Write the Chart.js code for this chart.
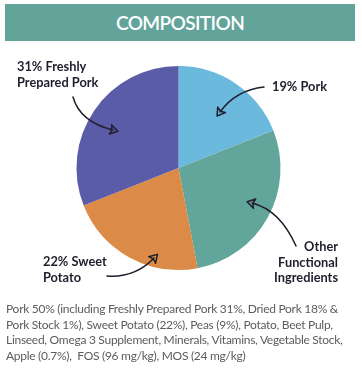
<!DOCTYPE html>
<html>
<head>
<meta charset="utf-8">
<script src="https://cdn.jsdelivr.net/npm/chart.js@4.4.0/dist/chart.umd.min.js"></script>
<style>
  html, body { margin: 0; padding: 0; background: #fff; }
  #wrap { position: relative; width: 362px; height: 382px; overflow: hidden; }
  #title {
    position: absolute; left: 5px; top: 4px; width: 350px; height: 37px;
    background: #63a49a; color: #fff; text-align: center;
    font: 600 19px 'Lato', sans-serif; line-height: 37px; letter-spacing: -0.6px;
  }
  #chart { position: absolute; left: 0; top: 0; }
  #note {
    position: absolute; left: 6px; top: 301px; width: 356px; white-space: nowrap;
    font: 400 12px 'Lato', sans-serif; line-height: 15.6px; color: #5c5c5c; letter-spacing: -0.28px;
  }
</style>
</head>
<body>
<div id="wrap">
  <canvas id="chart" width="362" height="382"></canvas>
  <div id="title">COMPOSITION</div>
  <div id="note">Pork 50% (including Freshly Prepared Pork 31%, Dried Pork 18% &amp;<br>Pork Stock 1%), Sweet Potato (22%), Peas (9%), Potato, Beet Pulp,<br>Linseed, Omega 3 Supplement, Minerals, Vitamins, Vegetable Stock,<br>Apple (0.7%),&nbsp; FOS (96 mg/kg), MOS (24 mg/kg)</div>
</div>
<script>
  'use strict';

  // slices, clockwise from 12 o'clock
  var LABELS = ['19% Pork', 'Other Functional Ingredients', '22% Sweet Potato', '31% Freshly Prepared Pork'];
  var VALUES = [19, 28, 22, 31];
  var COLORS = ['#6cb9de', '#62a59b', '#dc8a47', '#5b5ca7'];

  // callout text lines for each slice (same order)
  var CALLOUTS = [
    { lines: ['19% Pork'], x: 272, y: 87, align: 'left' },
    { lines: ['Other', 'Functional', 'Ingredients'], x: 338, y: 247, align: 'right' },
    { lines: ['22% Sweet', 'Potato'], x: 43, y: 262, align: 'left' },
    { lines: ['31% Freshly', 'Prepared Pork'], x: 17, y: 67, align: 'left' }
  ];

  // hand-drawn arrows: start, control, end (tip)
  var ARROWS = [
    { p0: [264, 87], c: [236, 90], p1: [220, 112] },
    { p0: [296, 246], c: [280, 210], p1: [252, 203] },
    { p0: [107, 276], c: [135, 278], p1: [154, 258] },
    { p0: [73, 97], c: [80, 122], p1: [113, 130] }
  ];

  var calloutPlugin = {
    id: 'callouts',
    afterDraw: function (chart) {
      var ctx = chart.ctx;
      ctx.save();
      ctx.fillStyle = '#1e1e2c';
      ctx.font = '700 12.8px Lato, sans-serif';
      ctx.textBaseline = 'middle';
      CALLOUTS.forEach(function (c) {
        ctx.textAlign = c.align;
        c.lines.forEach(function (ln, i) {
          ctx.fillText(ln, c.x, c.y + i * 15.5);
        });
      });

      ctx.strokeStyle = '#1e1e2c';
      ctx.lineWidth = 1.5;
      ctx.lineCap = 'round';
      ctx.lineJoin = 'round';
      ARROWS.forEach(function (a) {
        ctx.beginPath();
        ctx.moveTo(a.p0[0], a.p0[1]);
        ctx.quadraticCurveTo(a.c[0], a.c[1], a.p1[0], a.p1[1]);
        ctx.stroke();
        // arrow head as small outlined triangle
        var ang = Math.atan2(a.p1[1] - a.c[1], a.p1[0] - a.c[0]);
        var L = 9, W = 0.55;
        var tip = [a.p1[0] + Math.cos(ang) * 5, a.p1[1] + Math.sin(ang) * 5];
        var l = [tip[0] - L * Math.cos(ang - W), tip[1] - L * Math.sin(ang - W)];
        var r = [tip[0] - L * Math.cos(ang + W), tip[1] - L * Math.sin(ang + W)];
        ctx.beginPath();
        ctx.moveTo(l[0], l[1]);
        ctx.lineTo(tip[0], tip[1]);
        ctx.lineTo(r[0], r[1]);
        ctx.quadraticCurveTo(a.p1[0], a.p1[1], l[0], l[1]);
        ctx.closePath();
        ctx.stroke();
      });
      ctx.restore();
    }
  };

  new Chart(document.getElementById('chart').getContext('2d'), {
    type: 'pie',
    data: {
      labels: LABELS,
      datasets: [{
        data: VALUES,
        backgroundColor: COLORS,
        borderWidth: 0
      }]
    },
    options: {
      responsive: false,
      animation: false,
      layout: { padding: { left: 76.5, right: 81.5, top: 66, bottom: 112 } },
      plugins: { legend: { display: false }, tooltip: { enabled: false } }
    },
    plugins: [calloutPlugin]
  });
</script>
</body>
</html>
